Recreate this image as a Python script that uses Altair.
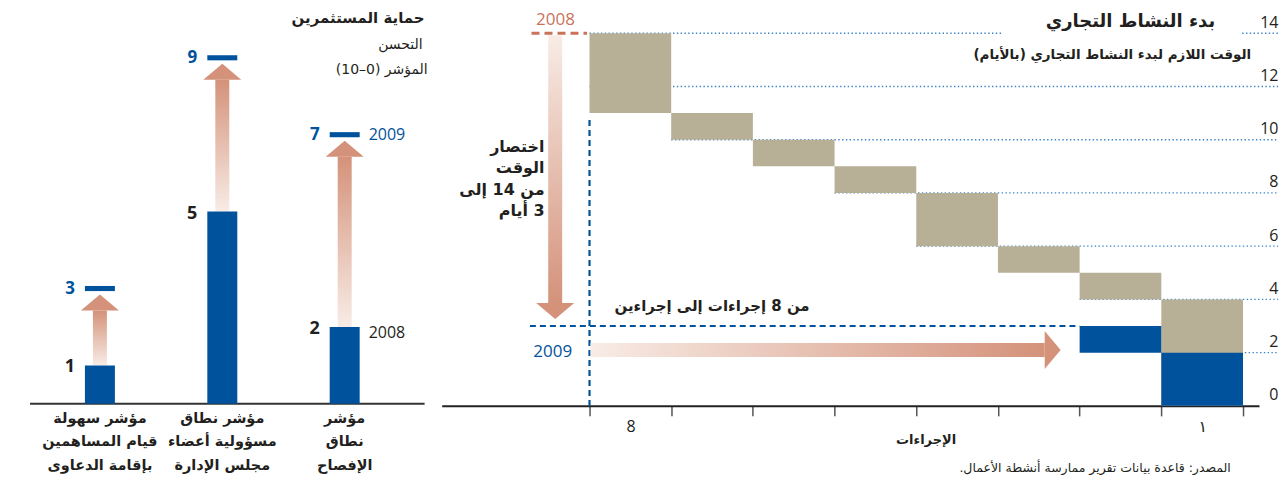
import altair as alt
import pandas as pd

# ---------------- data ----------------
# Right panel: starting a business (days per procedure, procedure 1 is at the right)
procedure_no = [1, 2, 3, 4, 5, 6, 7, 8]
days_2008 = [4, 1, 1, 2, 1, 1, 1, 3]
procedure_no_2009 = [1, 2]
days_2009 = [2, 1]
day_ticks = [0, 2, 4, 6, 8, 10, 12, 14]
proc_tick_labels = {0: "8", 7: "١"}
year_labels = ["2008", "2009"]

# Left panel: investor protection indices (0-10)
index_names = [
    "مؤشر سهولة\nقيام المساهمين\nبإقامة الدعاوى",
    "مؤشر نطاق\nمسؤولية أعضاء\nمجلس الإدارة",
    "مؤشر\nنطاق\nالإفصاح",
]
index_2008 = [1, 5, 2]
index_2009 = [3, 9, 7]

# ---------------- styles ----------------
BLUE = "#00529c"
TAN = "#b8af97"
SALMON = "#c8735a"
HEAD = "#d4927a"
LIGHT = "#f8ece6"
DOT = "#3d84c6"
INK = "#231f20"
AR = "DejaVu Sans"
NUM = "Open Sans, DejaVu Sans"
RLM = "\u200f"


def grad(x1, y1, x2, y2):
    return alt.LinearGradient(
        gradient="linear",
        stops=[alt.GradientStop(color=LIGHT, offset=0), alt.GradientStop(color=HEAD, offset=1)],
        x1=x1, y1=y1, x2=x2, y2=y2,
    )


UP = "M-1,0.42L1,0.42L0,-0.42Z"
DOWN = "M-1,-0.42L1,-0.42L0,0.42Z"
RIGHT = "M-0.42,-1L0.42,0L-0.42,1Z"
HBAR = "M-1,-0.17L1,-0.17L1,0.17L-1,0.17Z"


def text_layer(rows, xs, ys, **mark):
    df = pd.DataFrame(rows)
    return alt.Chart(df).mark_text(**mark).encode(
        x=alt.X("x:Q", scale=xs, axis=None),
        y=alt.Y("y:Q", scale=ys, axis=None),
        text="t:N",
    )


# ================= LEFT PANEL =================
lx = alt.Scale(domain=[-0.751, 2.678], nice=False, zero=False, padding=0)
ly = alt.Scale(domain=[0, 10.29], nice=False, zero=False, padding=0)
left_df = pd.DataFrame({"i": list(range(len(index_names))), "name": index_names,
                        "v08": index_2008, "v09": index_2009})
lb = alt.Chart(left_df)
LX = alt.X("i:Q", scale=lx, axis=None)

l_base = alt.Chart(pd.DataFrame({"a": [-0.571], "b": [2.653], "y": [0]})).mark_rule(
    color="#333333", strokeWidth=2).encode(
    x=alt.X("a:Q", scale=lx, axis=None), x2="b:Q", y=alt.Y("y:Q", scale=ly, axis=None))

l_bars = lb.mark_bar(size=30, color=BLUE).encode(LX, y=alt.Y("v08:Q", scale=ly, axis=None))
l_shaft = lb.mark_bar(size=14, fill=grad(0, 1, 0, 0), strokeWidth=0, y2Offset=22).encode(
    LX, y=alt.Y("v08:Q", scale=ly, axis=None), y2="v09:Q")
l_head = lb.mark_point(shape=UP, size=1444, filled=True, opacity=1, color=HEAD,
                       strokeWidth=0, yOffset=14).encode(LX, y=alt.Y("v09:Q", scale=ly, axis=None))
l_mark = lb.mark_point(shape=HBAR, size=900, filled=True, opacity=1, color=BLUE,
                       strokeWidth=0).encode(LX, y=alt.Y("v09:Q", scale=ly, axis=None))
l_v08 = lb.mark_text(align="right", dx=-25, dy=2, fontSize=18, fontWeight="bold",
                     font=NUM, color=INK).encode(LX, y=alt.Y("v08:Q", scale=ly, axis=None), text="v08:Q")
l_v09 = lb.mark_text(align="right", dx=-25, dy=0, fontSize=17, fontWeight="bold",
                     font=NUM, color=BLUE).encode(LX, y=alt.Y("v09:Q", scale=ly, axis=None), text="v09:Q")
last = alt.datum.i == len(index_names) - 1
l_y09 = lb.transform_filter(last).mark_text(align="left", dx=24, fontSize=16, font=NUM,
                                            color=BLUE, text=year_labels[1]).encode(
    LX, y=alt.Y("v09:Q", scale=ly, axis=None))
l_y08 = lb.transform_filter(last).mark_text(align="left", dx=24, dy=6, fontSize=16, font=NUM,
                                            color=INK, text=year_labels[0]).encode(
    LX, y=alt.Y("v08:Q", scale=ly, axis=None))
l_names = text_layer([{"x": i, "y": -0.39, "t": n} for i, n in enumerate(index_names)], lx, ly,
                     lineBreak="\n", lineHeight=23.5, fontSize=14.5, fontWeight="bold", font=AR,
                     color=INK, align="center", baseline="middle")
l_title = text_layer([{"x": 2.653, "y": 10.03, "t": "حماية المستثمرين"}], lx, ly,
                     align="right", fontSize=15, fontWeight="bold", font=AR, color=INK)
l_sub = text_layer([{"x": 2.637, "y": 9.32, "t": "التحسن"},
                    {"x": 2.678, "y": 8.68, "t": RLM + "المؤشر (0–10)" + RLM}], lx, ly,
                   align="right", fontSize=14, font=AR, color=INK)

left = alt.layer(l_base, l_shaft, l_head, l_mark, l_bars, l_v08, l_v09, l_y09, l_y08,
                 l_names, l_title, l_sub).properties(width=420, height=396)

# ================= RIGHT PANEL =================
n_slots = len(procedure_no)


def staircase(procs, days):
    rows, cum = [], 0
    for p, d in zip(procs, days):
        rows.append({"proc": p, "x": n_slots - p, "x2": n_slots - p + 1, "y": cum, "y2": cum + d})
        cum += d
    return pd.DataFrame(rows)


s08 = staircase(procedure_no, days_2008)
s09 = staircase(procedure_no_2009, days_2009)
total08 = sum(days_2008)
total09 = sum(days_2009)

rx = alt.Scale(domain=[-1.81, 8.196], nice=False, zero=False, padding=0)
ry = alt.Scale(domain=[0, 14.94], nice=False, zero=False, padding=0)

GRID_END = 8.43
grid_rows = []
for v in day_ticks:
    if v == 0:
        continue
    start = min(r.x for r in s08.itertuples() if r.y <= v)
    if v == day_ticks[-1]:
        grid_rows += [{"v": v, "a": start, "b": 5.04}, {"v": v, "a": 7.99, "b": GRID_END}]
    else:
        grid_rows.append({"v": v, "a": start, "b": GRID_END})

label_expr = " : ".join(f"datum.value == {k} ? '{v}'" for k, v in proc_tick_labels.items()) + " : ''"
r_grid = alt.Chart(pd.DataFrame(grid_rows)).mark_rule(
    color=DOT, strokeWidth=1.4, strokeDash=[1.4, 2.4]).encode(
    x=alt.X("a:Q", scale=rx, axis=alt.Axis(
        values=list(range(n_slots + 1)), labelExpr=label_expr, labelOffset=41,
        tickSize=10, tickColor="#555555", tickWidth=1.5, domainColor="#222222", domainWidth=2,
        grid=False, title=None, labelFontSize=16, labelFont=NUM, labelColor=INK,
        labelPadding=3)),
    x2="b:Q",
    y=alt.Y("v:Q", scale=ry, axis=alt.Axis(
        orient="right", values=day_ticks, ticks=False, tickSize=0, domain=False, grid=False,
        labelAlign="right", labelPadding=19, labelBaseline="alphabetic", labelOffset=-6,
        labelFontSize=16, labelFont=NUM, labelColor=INK, title=None)))

r_bars08 = alt.Chart(s08).mark_rect(color=TAN).encode(
    x=alt.X("x:Q", scale=rx, axis=None), x2="x2:Q",
    y=alt.Y("y:Q", scale=ry, axis=None), y2="y2:Q")
r_bars09 = alt.Chart(s09).mark_rect(color=BLUE).encode(
    x=alt.X("x:Q", scale=rx, axis=None), x2="x2:Q",
    y=alt.Y("y:Q", scale=ry, axis=None), y2="y2:Q")

first_slot = n_slots - len(procedure_no)
end09 = n_slots - len(procedure_no_2009)
r_dash_h = alt.Chart(pd.DataFrame({"a": [-0.73], "b": [end09], "v": [total09]})).mark_rule(
    color=BLUE, strokeWidth=2.2, strokeDash=[6, 4]).encode(
    x=alt.X("a:Q", scale=rx, axis=None), x2="b:Q", y=alt.Y("v:Q", scale=ry, axis=None))
r_dash_v = alt.Chart(pd.DataFrame({"x": [first_slot], "a": [0], "b": [10.85]})).mark_rule(
    color=BLUE, strokeWidth=2.2, strokeDash=[6, 4]).encode(
    x=alt.X("x:Q", scale=rx, axis=None), y=alt.Y("a:Q", scale=ry, axis=None), y2="b:Q")
r_dash08 = alt.Chart(pd.DataFrame({"a": [-0.71], "b": [-0.03], "v": [total08]})).mark_rule(
    color=SALMON, strokeWidth=3, strokeDash=[8, 5]).encode(
    x=alt.X("a:Q", scale=rx, axis=None), x2="b:Q", y=alt.Y("v:Q", scale=ry, axis=None))

varrow = pd.DataFrame({"x": [-0.42], "a": [total08], "b": [total09]})
r_vshaft = alt.Chart(varrow).mark_bar(size=14, fill=grad(0, 0, 0, 1), strokeWidth=0,
                                      yOffset=2, y2Offset=-23).encode(
    x=alt.X("x:Q", scale=rx, axis=None), y=alt.Y("a:Q", scale=ry, axis=None), y2="b:Q")
r_vhead = alt.Chart(varrow).mark_point(shape=DOWN, size=1444, filled=True, opacity=1, color=HEAD,
                                       strokeWidth=0, yOffset=-15).encode(
    x=alt.X("x:Q", scale=rx, axis=None), y=alt.Y("b:Q", scale=ry, axis=None))

harrow = pd.DataFrame({"a": [first_slot], "b": [end09], "y": [2.1]})
r_hshaft = alt.Chart(harrow).mark_bar(size=14, orient="horizontal", fill=grad(0, 0, 1, 0),
                                      strokeWidth=0, xOffset=1, x2Offset=-35).encode(
    x=alt.X("a:Q", scale=rx, axis=None), x2="b:Q", y=alt.Y("y:Q", scale=ry, axis=None))
r_hhead = alt.Chart(harrow).mark_point(shape=RIGHT, size=1444, filled=True, opacity=1, color=HEAD,
                                       strokeWidth=0, xOffset=-27).encode(
    x=alt.X("b:Q", scale=rx, axis=None), y=alt.Y("y:Q", scale=ry, axis=None))

r_title = text_layer([{"x": 7.66, "y": 14.41, "t": "بدء النشاط التجاري"}], rx, ry,
                     align="right", fontSize=18, fontWeight="bold", font=AR, color=INK)
r_sub = text_layer([{"x": 8.10, "y": 13.18, "t": RLM + "الوقت اللازم لبدء النشاط التجاري (بالأيام)" + RLM}],
                   rx, ry, align="right", fontSize=13.5, fontWeight="bold", font=AR, color=INK)
r_y08 = text_layer([{"x": -0.416, "y": 14.5, "t": year_labels[0]}], rx, ry,
                   align="center", fontSize=17, font=NUM, color=SALMON)
r_y09 = text_layer([{"x": -0.45, "y": 2.03, "t": year_labels[1]}], rx, ry,
                   align="center", fontSize=17, font=NUM, color=BLUE)
r_cut = text_layer([{"x": -0.55, "y": 9.72,
                     "t": "اختصار\nالوقت\nمن 14 إلى\n" + RLM + "3 أيام"}], rx, ry,
                   align="right", baseline="middle", lineBreak="\n", lineHeight=21.3,
                   fontSize=16, fontWeight="bold", font=AR, color=INK)
r_procs = text_layer([{"x": 1.50, "y": 3.75, "t": "من 8 إجراءات إلى إجراءين"}], rx, ry,
                     align="center", fontSize=15, fontWeight="bold", font=AR, color=INK)
r_xtitle = text_layer([{"x": 4.12, "y": -1.28, "t": "الإجراءات"}], rx, ry,
                      align="center", fontSize=13, fontWeight="bold", font=AR, color=INK)
r_source = text_layer([{"x": 7.85, "y": -2.33,
                        "t": RLM + "المصدر: قاعدة بيانات تقرير ممارسة أنشطة الأعمال." + RLM}], rx, ry,
                      align="right", fontSize=12.5, font=AR, color=INK)

right = alt.layer(r_grid, r_bars08, r_bars09, r_dash_h, r_dash_v, r_dash08,
                  r_vshaft, r_vhead, r_hshaft, r_hhead,
                  r_title, r_sub, r_y08, r_y09, r_cut, r_procs, r_xtitle, r_source
                  ).resolve_axis(x="independent", y="independent").properties(width=818, height=398)

chart = alt.hconcat(left, right, spacing=14, bounds="flush").properties(
    padding=0, background="white"
).configure(font=AR).configure_view(strokeWidth=0, stroke="transparent")

chart.save("out.html", embed_options={"renderer": "svg", "actions": False})
